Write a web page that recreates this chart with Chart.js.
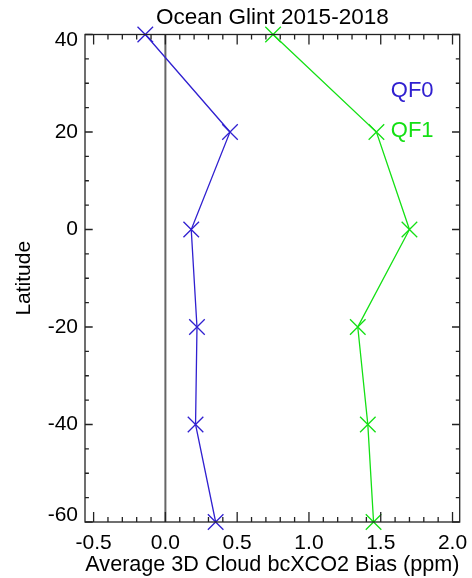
<!DOCTYPE html>
<html>
<head>
<meta charset="utf-8">
<script src="https://cdn.jsdelivr.net/npm/chart.js@4"></script>
<style>
  html, body { margin: 0; padding: 0; background: #fff; }
</style>
</head>
<body>
<canvas id="glintChart" width="472" height="578"></canvas>
<script>
// values
const latitudes = [40, 20, 0, -20, -40, -60];
const qf0Bias = [-0.14, 0.45, 0.18, 0.22, 0.21, 0.35];
const qf1Bias = [0.75, 1.47, 1.70, 1.34, 1.41, 1.45];
const xTickLabels = [-0.5, 0.0, 0.5, 1.0, 1.5, 2.0];
const yTickLabels = [-60, -40, -20, 0, 20, 40];
const chartTitle = "Ocean Glint 2015-2018";

const blue = "#3020d0";
const green = "#14e014";
const FONT = "'Liberation Sans', Arial, sans-serif";

Chart.defaults.font.family = FONT;
Chart.defaults.color = "#000";

// frame, inward ticks on all sides, zero line, tick labels, title and the QF0/QF1 notes
const framePlugin = {
  id: "frame",
  beforeDatasetsDraw(chart) {
    const { ctx, chartArea: a, scales: { x } } = chart;
    const x0 = x.getPixelForValue(0);
    ctx.save();
    ctx.strokeStyle = "#666";
    ctx.lineWidth = 2;
    ctx.beginPath();
    ctx.moveTo(x0, a.top);
    ctx.lineTo(x0, a.bottom);
    ctx.stroke();
    ctx.restore();
  },
  afterDraw(chart) {
    const { ctx, chartArea: a, scales: { x, y } } = chart;
    ctx.save();
    ctx.strokeStyle = "#222";
    ctx.lineWidth = 1.3;
    ctx.strokeRect(a.left, a.top, a.right - a.left, a.bottom - a.top);

    ctx.beginPath();
    for (let i = -5; i <= 20; i++) {
      const px = x.getPixelForValue(i / 10);
      const len = i % 5 === 0 ? 10 : 5;
      ctx.moveTo(px, a.bottom); ctx.lineTo(px, a.bottom - len);
      ctx.moveTo(px, a.top); ctx.lineTo(px, a.top + len);
    }
    for (let v = -60; v <= 40; v += 5) {
      const py = y.getPixelForValue(v);
      const len = v % 20 === 0 ? 7.7 : 3.9;
      ctx.moveTo(a.left, py); ctx.lineTo(a.left + len, py);
      ctx.moveTo(a.right, py); ctx.lineTo(a.right - len, py);
    }
    ctx.stroke();

    ctx.fillStyle = "#000";
    ctx.font = "21px " + FONT;
    ctx.textBaseline = "middle";

    ctx.textAlign = "right";
    yTickLabels.forEach(v => {
      let py = y.getPixelForValue(v);
      py = Math.min(Math.max(py, a.top + 6), a.bottom - 7);
      ctx.fillText(String(v), a.left - 7, py);
    });

    ctx.textAlign = "center";
    xTickLabels.forEach(v => {
      ctx.fillText(v.toFixed(1), x.getPixelForValue(v), a.bottom + 21);
    });
    ctx.font = "22.5px " + FONT;
    ctx.fillText(chartTitle, (a.left + a.right) / 2, 18);

    ctx.font = "22px " + FONT;
    ctx.textAlign = "left";
    ctx.fillStyle = blue;
    ctx.fillText("QF0", x.getPixelForValue(1.57), y.getPixelForValue(28.5));
    ctx.fillStyle = green;
    ctx.fillText("QF1", x.getPixelForValue(1.57), y.getPixelForValue(20.2));
    ctx.restore();
  }
};

const ctx = document.getElementById("glintChart").getContext("2d");
const glintChart = new Chart(ctx, {
  type: "scatter",
  data: {
    datasets: [
      {
        label: "QF0",
        data: latitudes.map((lat, i) => ({ x: qf0Bias[i], y: lat })),
        showLine: true,
        borderColor: blue,
        backgroundColor: blue,
        borderWidth: 1.3,
        pointStyle: "crossRot",
        pointRadius: 11,
        pointBorderWidth: 1.3,
        clip: false,
      },
      {
        label: "QF1",
        data: latitudes.map((lat, i) => ({ x: qf1Bias[i], y: lat })),
        showLine: true,
        borderColor: green,
        backgroundColor: green,
        borderWidth: 1.3,
        pointStyle: "crossRot",
        pointRadius: 11,
        pointBorderWidth: 1.3,
        clip: false,
      },
    ],
  },
  options: {
    responsive: false,
    animation: false,
    devicePixelRatio: 1,
    layout: { padding: { top: 34.5, right: 9.5, bottom: 0, left: 0 } },
    plugins: {
      legend: { display: false },
      tooltip: { enabled: false },
      title: { display: false },
    },
    scales: {
      x: {
        type: "linear",
        min: -0.56,
        max: 2.05,
        afterBuildTicks: s => { s.ticks = xTickLabels.map(v => ({ value: v })); },
        afterFit: s => { s.height = 56; },
        ticks: { display: false },
        grid: { display: false },
        border: { display: false },
        title: {
          display: true,
          text: "Average 3D Cloud bcXCO2 Bias (ppm)",
          color: "#000",
          font: { size: 21.6 },
          padding: { top: 0, bottom: 0 },
        },
      },
      y: {
        type: "linear",
        min: -60,
        max: 40,
        afterBuildTicks: s => { s.ticks = yTickLabels.map(v => ({ value: v })); },
        afterFit: s => { s.width = 85; },
        ticks: { display: false },
        grid: { display: false },
        border: { display: false },
        title: {
          display: true,
          text: "Latitude",
          color: "#000",
          font: { size: 21 },
          padding: { top: 12, bottom: 0 },
        },
      },
    },
  },
  plugins: [framePlugin],
});
</script>
</body>
</html>
